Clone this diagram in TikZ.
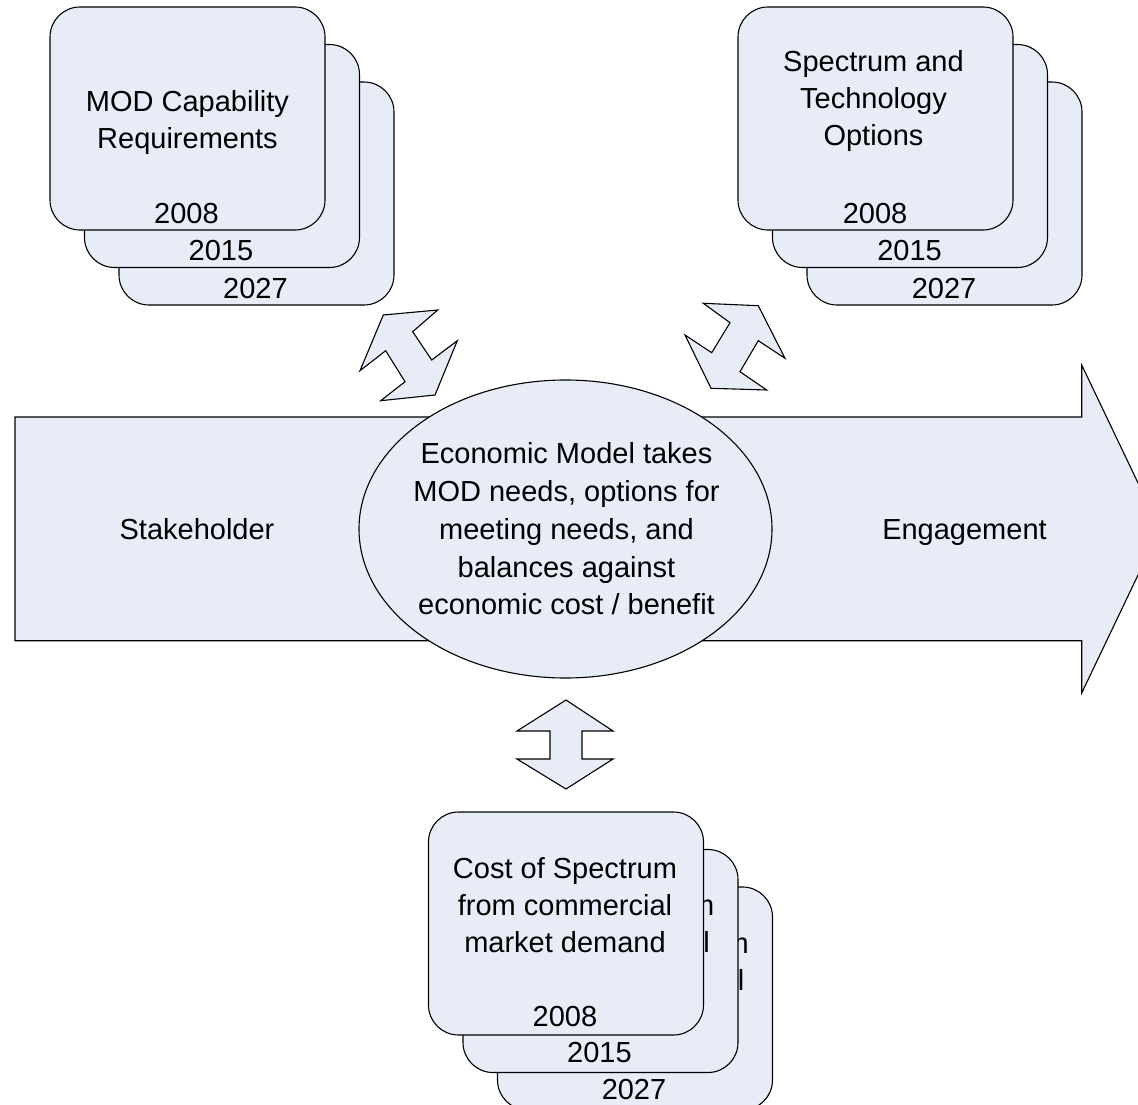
\documentclass[tikz,border=0pt]{standalone}
\usepackage{fontspec}
\setmainfont{Liberation Sans}
\usetikzlibrary{shapes.geometric}
\definecolor{cardfill}{RGB}{231,236,247}
\begin{document}
\begin{tikzpicture}[x=1pt,y=-1pt,
  card/.style={draw=black, fill=cardfill, line width=1.1pt, rounded corners=30pt,
    minimum width=275pt, minimum height=223pt, inner sep=0pt},
  shapeline/.style={draw=black, fill=cardfill, line width=1.1pt, line join=miter},
  oval/.style={ellipse, draw=black, fill=cardfill, line width=1.1pt,
    minimum width=413pt, minimum height=298pt, inner sep=0pt},
  txt/.style={font=\fontsize{29}{37.7}\selectfont, anchor=base, inner sep=0pt, text=black},
  frag/.style={txt, anchor=base east}]
\useasboundingbox (0,0) rectangle (1138,1105);
\clip (0,0) rectangle (1138,1105);

% big process arrow
\draw[shapeline] (15,417) -- (1081.7,417) -- (1081.7,365) -- (1160,529)
  -- (1081.7,693) -- (1081.7,640.7) -- (15,640.7) -- cycle;
\node[txt] (stake) at (197,539) {Stakeholder};
\node[txt] (engage) at (964.5,539) {Engagement};

% central ellipse
\node[oval] (econ) at (565.5,529) {};
\node[txt] (e1) at (566.5,463) {Economic Model takes};
\node[txt] (e2) at (566.5,501) {MOD needs, options for};
\node[txt] (e3) at (566.5,539) {meeting needs, and};
\node[txt] (e4) at (566.5,577) {balances against};
\node[txt] (e5) at (566.5,614) {economic cost / benefit};

% double arrows
\draw[shapeline] (383.3,315) -- (437.7,310) -- (412.7,331.7) -- (431.7,360)
  -- (457.3,340.7) -- (435,395) -- (380.7,400.7) -- (405,381.7)
  -- (385.7,350.7) -- (360,370.7) -- cycle;
\draw[shapeline] (703.3,303.3) -- (758.3,305.7) -- (785,358.3) -- (758.3,340.7)
  -- (740,371.7) -- (766.7,390) -- (711,388.3) -- (685,335)
  -- (711.7,352.7) -- (730,322.7) -- cycle;
\draw[shapeline] (566,700) -- (613,731) -- (582,731) -- (582,759) -- (613,759)
  -- (566,789) -- (517,759) -- (550,759) -- (550,731) -- (517,731) -- cycle;

% top-left stack
\foreach \k/\yr in {2/2027,1/2015,0/2008}{
  \node[card] (tl\k) at (187.5+34.5*\k,118.5+37.5*\k) {};
  \node[txt] (tly\k) at (186.5+34.5*\k,223+37.5*\k) {\yr};
}
\node[txt] (tla) at (187.5,111.5) {MOD Capability};
\node[txt] (tlb) at (187.5,149) {Requirements};

% top-right stack
\foreach \k/\yr in {2/2027,1/2015,0/2008}{
  \node[card] (tr\k) at (875.5+34.5*\k,118.5+37.5*\k) {};
  \node[txt] (try\k) at (875+34.5*\k,223+37.5*\k) {\yr};
}
\node[txt] (tra) at (873.5,71.7) {Spectrum and};
\node[txt] (trb) at (873.5,108.5) {Technology};
\node[txt] (trc) at (873.5,145.5) {Options};

% bottom stack (back cards only show the ends of their text lines)
\foreach \k/\yr in {2/2027,1/2015}{
  \node[card] (bt\k) at (566+34.5*\k,923.5+37.5*\k) {};
  \node[frag] (btm\k) at (680+34.5*\k,878+37.5*\k) {m};
  \node[frag] (btl\k) at (675.5+34.5*\k,915+37.5*\k) {l};
  \node[txt] (bty\k) at (565+34.5*\k,1026+36.5*\k) {\yr};
}
\node[card] (bt0) at (566,923.5) {};
\node[txt] (bta) at (565,878) {Cost of Spectrum};
\node[txt] (btb) at (565,915) {from commercial};
\node[txt] (btc) at (565,952) {market demand};
\node[txt] (bty0) at (565,1026) {2008};
\end{tikzpicture}
\end{document}
